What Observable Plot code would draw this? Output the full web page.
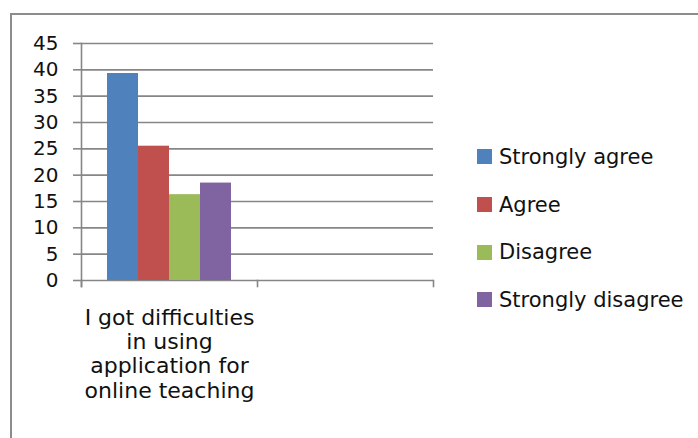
<!DOCTYPE html>
<html>
<head>
<meta charset="utf-8">
<script src="https://cdn.jsdelivr.net/npm/d3@7"></script>
<script src="https://cdn.jsdelivr.net/npm/@observablehq/plot@0.6"></script>
<style>
  html, body { margin: 0; padding: 0; background: #fff; }
  body { width: 698px; height: 438px; position: relative; overflow: hidden; font-family: "DejaVu Sans", sans-serif; }
  #border { position: absolute; left: 10px; top: 13px; width: 720px; height: 440px; border-top: 2px solid #8c8c8c; border-left: 2px solid #8c8c8c; box-sizing: border-box; }
  #chart { position: absolute; left: 0; top: 0; }
  #legend { position: absolute; left: 477px; top: 133px; }
  .item { display: flex; align-items: center; height: 47.7px; font-size: 21px; color: #111; }
  .sw { width: 15px; height: 15px; margin-right: 7px; }
</style>
</head>
<body>
<div id="border"></div>
<div id="chart"></div>
<div id="legend"></div>
<script>
const categories = ["I got difficulties in using application for online teaching", "(empty)"];
const categoryLabels = ["I got difficulties\nin using\napplication for\nonline teaching", ""];
const series = ["Strongly agree", "Agree", "Disagree", "Strongly disagree"];
const values = [39.3, 25.5, 16.3, 18.5];
const colors = ["#4F81BD", "#C0504D", "#9BBB59", "#8064A2"];
const yTicks = [0, 5, 10, 15, 20, 25, 30, 35, 40, 45];

const data = series.map((s, i) => ({category: categories[0], series: s, value: values[i]}));
const gridData = categories.flatMap(c => yTicks.map(t => ({category: c, tick: t})));

const gray = "#868686";
const plotTop = 43, plotBottom = 280, H = 438;
const font = "'DejaVu Sans', sans-serif";

const chart = Plot.plot({
  width: 698,
  height: H,
  marginLeft: 80,
  marginRight: 265,
  marginTop: plotTop,
  marginBottom: H - plotBottom,
  style: {fontFamily: font, overflow: "visible", background: "transparent"},
  fx: {domain: categories, padding: 0},
  x: {domain: series, paddingInner: 0, paddingOuter: 0.76, axis: null},
  y: {domain: [0, 45]},
  color: {domain: series, range: colors},
  marks: [
    Plot.ruleY(gridData, {fx: "category", y: "tick", stroke: gray, strokeWidth: 1.6}),
    Plot.barY(data, {fx: "category", x: "series", y: "value", fill: "series"}),
    Plot.frame({anchor: "left", facetAnchor: "left", stroke: gray, strokeWidth: 1.6, insetBottom: -6}),
    Plot.frame({anchor: "left", stroke: gray, strokeWidth: 1.6, insetTop: plotBottom - plotTop, insetBottom: -6}),
    Plot.frame({anchor: "right", facetAnchor: "right", stroke: gray, strokeWidth: 1.6, insetTop: plotBottom - plotTop, insetBottom: -6}),
    Plot.axisY(yTicks, {tickSize: 8, tickPadding: 15, fontSize: 20, stroke: gray, strokeWidth: 1.6, fill: "#111", label: null}),
    Plot.axisFx({anchor: "bottom", tickSize: 0, tickPadding: 27, fontSize: 22, lineHeight: 1.105, fill: "#111",
      tickFormat: d => categoryLabels[categories.indexOf(d)], label: null})
  ]
});
document.getElementById("chart").appendChild(chart);

const legend = document.getElementById("legend");
series.forEach((s, i) => {
  const row = document.createElement("div");
  row.className = "item";
  const sw = document.createElement("div");
  sw.className = "sw";
  sw.style.background = colors[i];
  const t = document.createElement("span");
  t.textContent = s;
  row.appendChild(sw);
  row.appendChild(t);
  legend.appendChild(row);
});
</script>
</body>
</html>
